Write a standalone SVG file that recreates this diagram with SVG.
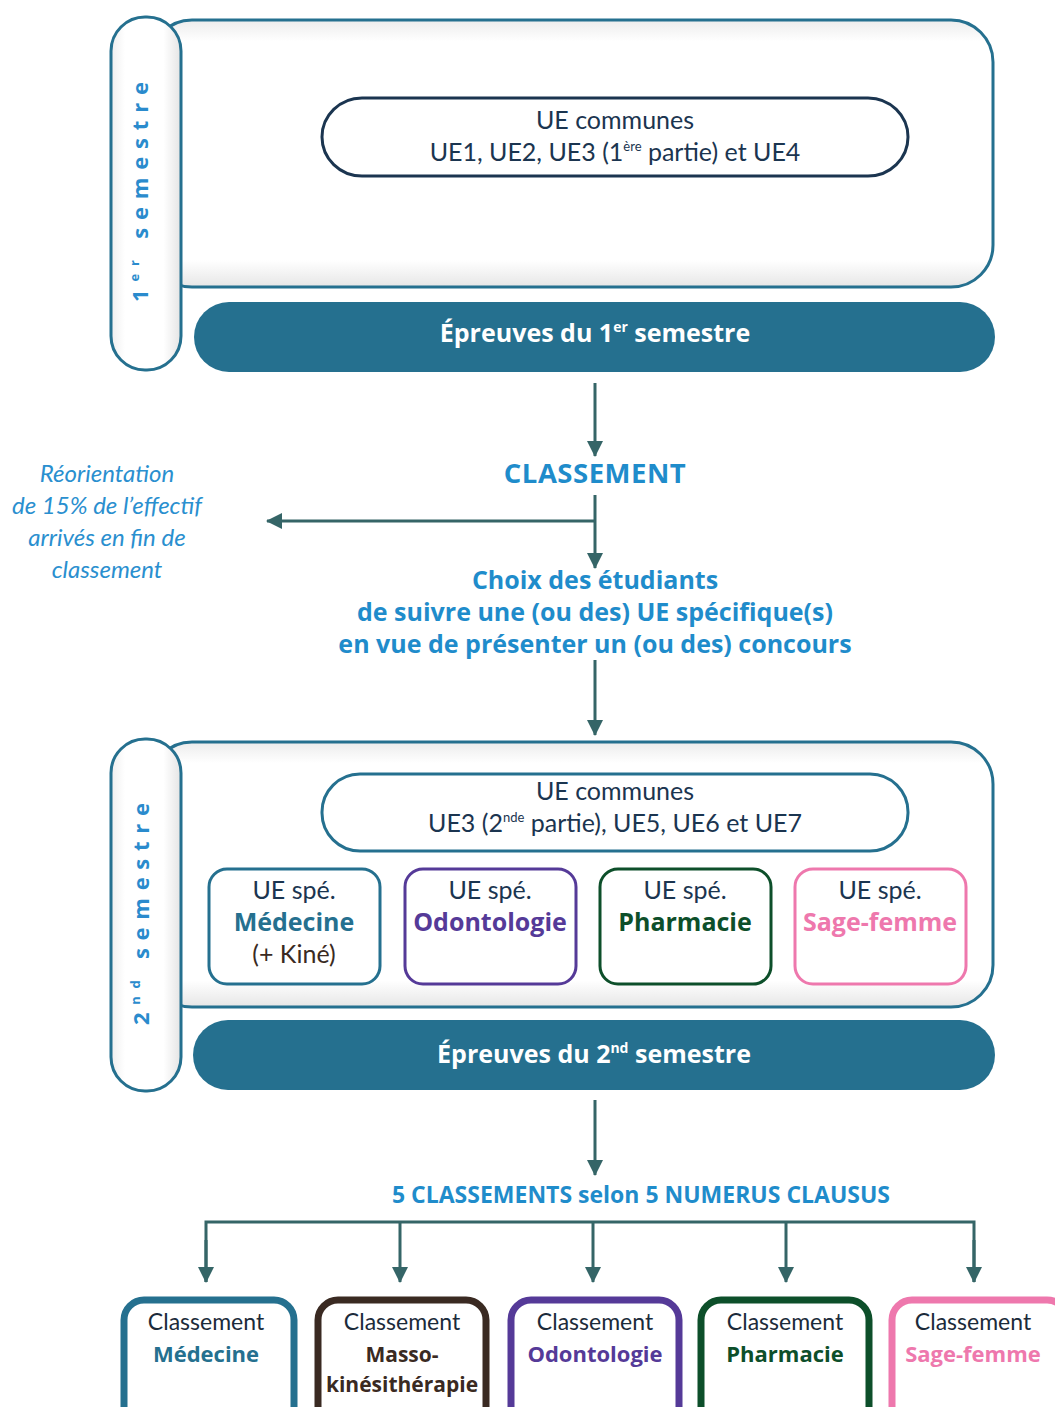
<svg xmlns="http://www.w3.org/2000/svg" width="1055" height="1407" viewBox="0 0 1055 1407">
<defs>
  <linearGradient id="shade" x1="0" y1="0" x2="0" y2="1">
    <stop offset="0" stop-color="#ececec"/>
    <stop offset="0.08" stop-color="#ffffff"/>
    <stop offset="0.9" stop-color="#ffffff"/>
    <stop offset="1" stop-color="#e6e6e6"/>
  </linearGradient>
  <linearGradient id="shadeH" x1="0" y1="0" x2="1" y2="0">
    <stop offset="0" stop-color="#eeeeee"/>
    <stop offset="0.2" stop-color="#ffffff"/>
    <stop offset="0.75" stop-color="#ffffff"/>
    <stop offset="1" stop-color="#e4e4e4"/>
  </linearGradient>
  <marker id="arrB" viewBox="0 0 16 16" refX="15" refY="8" markerWidth="22" markerHeight="16" markerUnits="userSpaceOnUse" orient="auto">
    <path d="M0,0 L16,8 L0,16 z" fill="#356567"/>
  </marker>
</defs>
<style>
  .frame{fill:url(#shade);stroke:#25708f;stroke-width:3}
  .pill{fill:url(#shadeH);stroke:#25708f;stroke-width:3}
  .band{fill:#25708f}
  .bandtxt{font-family:"Open Sans","Liberation Sans",sans-serif;font-weight:700;font-size:25px;fill:#ffffff;text-anchor:middle}
  .vert{font-family:"Open Sans","Liberation Sans",sans-serif;font-weight:700;font-size:22px;fill:#2a8bcd}
  .ue{font-family:Lato,"Liberation Sans",sans-serif;font-size:25px;fill:#1b3550;text-anchor:middle}
  .blue{font-family:"Open Sans","Liberation Sans",sans-serif;font-weight:700;fill:#1f8ccb;text-anchor:middle}
  .ital{font-family:Lato,"Liberation Sans",sans-serif;font-style:italic;font-size:24px;fill:#2a8fcf;text-anchor:middle}
  .conn{stroke:#356567;stroke-width:3;fill:none}
  .spe{fill:#ffffff;stroke-width:3}
  .cls{fill:#ffffff;stroke-width:7}
  .clst{font-family:Lato,"Liberation Sans",sans-serif;font-size:23px;fill:#1b2b3a;text-anchor:middle}
  .b{font-family:"Open Sans","Liberation Sans",sans-serif;font-weight:700}
</style>

<g id="semestre1">
  <rect class="frame" x="150" y="20" width="843" height="267" rx="42"/>
  <rect class="pill" x="111" y="17" width="70" height="353" rx="34"/>
  <text class="vert" transform="translate(148,302) rotate(-90)" textLength="220" lengthAdjust="spacing">1<tspan font-size="13" dy="-9">er</tspan><tspan dy="9"> semestre</tspan></text>
</g>

<g id="ue-communes-1">
  <rect x="322" y="98" width="586" height="78" rx="40" fill="#ffffff" stroke="#1b3550" stroke-width="3"/>
  <text class="ue" x="615" y="129">UE communes</text>
  <text class="ue" x="615" y="161">UE1, UE2, UE3 (1<tspan font-size="13" dy="-10">ère</tspan><tspan dy="10"> partie) et UE4</tspan></text>
</g>

<g id="epreuves-1">
  <rect class="band" x="194" y="302" width="801" height="70" rx="35"/>
  <text class="bandtxt" x="595" y="342">Épreuves du 1<tspan font-size="14" dy="-10">er</tspan><tspan dy="10"> semestre</tspan></text>
</g>

<g id="classement">
  <text class="blue" x="595" y="483" font-size="27.5" letter-spacing="0.5">CLASSEMENT</text>
</g>

<g id="reorientation">
  <text class="ital" x="107" y="482">Réorientation</text>
  <text class="ital" x="107" y="514">de 15% de l’effectif</text>
  <text class="ital" x="107" y="546">arrivés en fin de</text>
  <text class="ital" x="107" y="578">classement</text>
</g>

<g id="choix">
  <text class="blue" x="595" y="589" font-size="25">Choix des étudiants</text>
  <text class="blue" x="595" y="621" font-size="25">de suivre une (ou des) UE spécifique(s)</text>
  <text class="blue" x="595" y="653" font-size="25">en vue de présenter un (ou des) concours</text>
</g>

<g id="semestre2">
  <rect class="frame" x="150" y="742" width="843" height="265" rx="42"/>
  <rect class="pill" x="111" y="739" width="70" height="352" rx="34"/>
  <text class="vert" transform="translate(149,1025) rotate(-90)" textLength="222" lengthAdjust="spacing">2<tspan font-size="13" dy="-9">nd</tspan><tspan dy="9"> semestre</tspan></text>
</g>

<g id="ue-communes-2">
  <rect x="322" y="774" width="586" height="77" rx="38" fill="#ffffff" stroke="#25708f" stroke-width="3"/>
  <text class="ue" x="615" y="800">UE communes</text>
  <text class="ue" x="615" y="832">UE3 (2<tspan font-size="13" dy="-10">nde</tspan><tspan dy="10"> partie), UE5, UE6 et UE7</tspan></text>
</g>

<g id="ue-spe-medecine">
  <rect class="spe" x="209" y="869" width="171" height="115" rx="18" stroke="#25708f"/>
  <text class="ue" x="294" y="899">UE spé.</text>
  <text class="ue b" x="294" y="931" style="fill:#25708f">Médecine</text>
  <text class="ue" x="294" y="963" style="fill:#3a2a22">(+ Kiné)</text>
</g>
<g id="ue-spe-odontologie">
  <rect class="spe" x="405" y="869" width="171" height="115" rx="18" stroke="#553a98"/>
  <text class="ue" x="490" y="899">UE spé.</text>
  <text class="ue b" x="490" y="931" style="fill:#553a98">Odontologie</text>
</g>
<g id="ue-spe-pharmacie">
  <rect class="spe" x="600" y="869" width="171" height="115" rx="18" stroke="#0d4f2a"/>
  <text class="ue" x="685" y="899">UE spé.</text>
  <text class="ue b" x="685" y="931" style="fill:#0d4f2a">Pharmacie</text>
</g>
<g id="ue-spe-sagefemme">
  <rect class="spe" x="795" y="869" width="171" height="115" rx="18" stroke="#ee78ad"/>
  <text class="ue" x="880" y="899">UE spé.</text>
  <text class="ue b" x="880" y="931" style="fill:#ee78ad">Sage-femme</text>
</g>

<g id="epreuves-2">
  <rect class="band" x="193" y="1020" width="802" height="70" rx="35"/>
  <text class="bandtxt" x="594" y="1063">Épreuves du 2<tspan font-size="14" dy="-10">nd</tspan><tspan dy="10"> semestre</tspan></text>
</g>

<g id="cinq-classements">
  <text class="blue" x="641" y="1203" font-size="23">5 CLASSEMENTS selon 5 NUMERUS CLAUSUS</text>
</g>

<g id="classement-medecine">
  <rect class="cls" x="124" y="1300" width="170" height="130" rx="20" stroke="#25708f"/>
  <text class="clst" x="206" y="1330">Classement</text>
  <text class="clst b" x="206" y="1362" style="fill:#25708f;font-size:22px">Médecine</text>
</g>
<g id="classement-kine">
  <rect class="cls" x="318" y="1300" width="168" height="130" rx="20" stroke="#3a2a22"/>
  <text class="clst" x="402" y="1330">Classement</text>
  <text class="clst b" x="402" y="1362" style="fill:#3a2a22;font-size:21px">Masso-</text>
  <text class="clst b" x="402" y="1392" style="fill:#3a2a22;font-size:21px">kinésithérapie</text>
</g>
<g id="classement-odontologie">
  <rect class="cls" x="511" y="1300" width="168" height="130" rx="20" stroke="#553a98"/>
  <text class="clst" x="595" y="1330">Classement</text>
  <text class="clst b" x="595" y="1362" style="fill:#553a98;font-size:22px">Odontologie</text>
</g>
<g id="classement-pharmacie">
  <rect class="cls" x="701" y="1300" width="168" height="130" rx="20" stroke="#0d4f2a"/>
  <text class="clst" x="785" y="1330">Classement</text>
  <text class="clst b" x="785" y="1362" style="fill:#0d4f2a;font-size:22px">Pharmacie</text>
</g>
<g id="classement-sagefemme">
  <rect class="cls" x="892" y="1300" width="175" height="130" rx="20" stroke="#ee78ad"/>
  <text class="clst" x="973" y="1330">Classement</text>
  <text class="clst b" x="973" y="1362" style="fill:#ee78ad;font-size:22px">Sage-femme</text>
</g>

<g id="connectors">
  <line class="conn" x1="595" y1="383" x2="595" y2="456" marker-end="url(#arrB)"/>
  <line class="conn" x1="595" y1="495" x2="595" y2="568" marker-end="url(#arrB)"/>
  <line class="conn" x1="595" y1="521" x2="267" y2="521" marker-end="url(#arrB)"/>
  <line class="conn" x1="595" y1="660" x2="595" y2="735" marker-end="url(#arrB)"/>
  <line class="conn" x1="595" y1="1100" x2="595" y2="1175" marker-end="url(#arrB)"/>
  <polyline class="conn" points="206,1282 206,1222 974,1222 974,1282"/>
  <line class="conn" x1="206" y1="1240" x2="206" y2="1282" marker-end="url(#arrB)"/>
  <line class="conn" x1="400" y1="1222" x2="400" y2="1282" marker-end="url(#arrB)"/>
  <line class="conn" x1="593" y1="1222" x2="593" y2="1282" marker-end="url(#arrB)"/>
  <line class="conn" x1="786" y1="1222" x2="786" y2="1282" marker-end="url(#arrB)"/>
  <line class="conn" x1="974" y1="1240" x2="974" y2="1282" marker-end="url(#arrB)"/>
</g>
</svg>
